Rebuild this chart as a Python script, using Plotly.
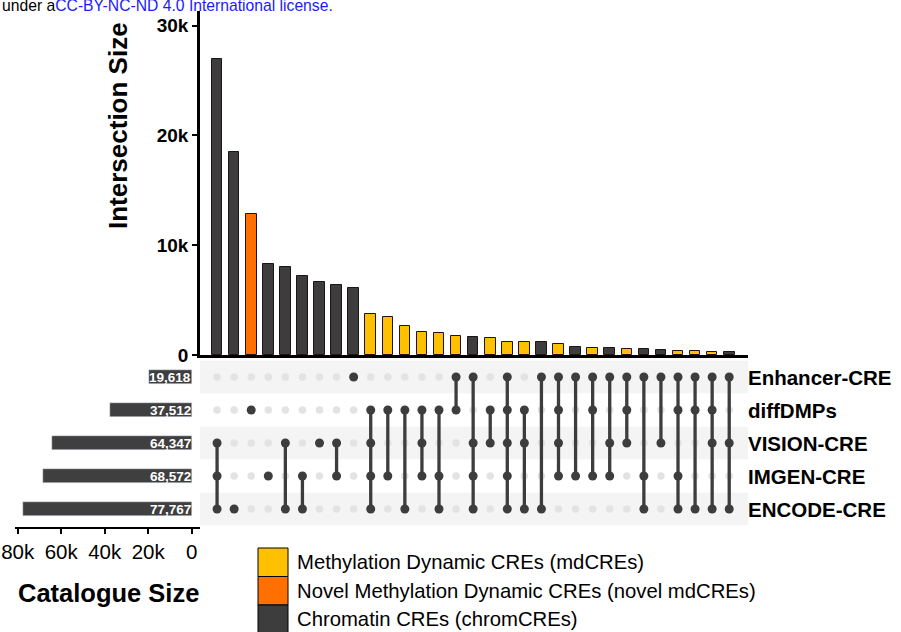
import plotly.graph_objects as go

# ---- data -------------------------------------------------------------
sets = ["Enhancer-CRE", "diffDMPs", "VISION-CRE", "IMGEN-CRE", "ENCODE-CRE"]
set_sizes = [19618, 37512, 64347, 68572, 77767]

# membership of each intersection column (set names joined by '&')
intersections = [
    "VISION-CRE&IMGEN-CRE&ENCODE-CRE",
    "ENCODE-CRE",
    "diffDMPs",
    "IMGEN-CRE",
    "VISION-CRE&ENCODE-CRE",
    "IMGEN-CRE&ENCODE-CRE",
    "VISION-CRE",
    "VISION-CRE&IMGEN-CRE",
    "Enhancer-CRE",
    "diffDMPs&VISION-CRE&IMGEN-CRE&ENCODE-CRE",
    "diffDMPs&IMGEN-CRE",
    "diffDMPs&ENCODE-CRE",
    "diffDMPs&VISION-CRE&IMGEN-CRE",
    "diffDMPs&IMGEN-CRE&ENCODE-CRE",
    "Enhancer-CRE&diffDMPs",
    "Enhancer-CRE&VISION-CRE&IMGEN-CRE&ENCODE-CRE",
    "diffDMPs&VISION-CRE",
    "Enhancer-CRE&diffDMPs&VISION-CRE&IMGEN-CRE&ENCODE-CRE",
    "diffDMPs&VISION-CRE&ENCODE-CRE",
    "Enhancer-CRE&ENCODE-CRE",
    "Enhancer-CRE&diffDMPs&VISION-CRE&IMGEN-CRE",
    "Enhancer-CRE&IMGEN-CRE",
    "Enhancer-CRE&diffDMPs&IMGEN-CRE",
    "Enhancer-CRE&VISION-CRE&IMGEN-CRE",
    "Enhancer-CRE&diffDMPs&VISION-CRE",
    "Enhancer-CRE&IMGEN-CRE&ENCODE-CRE",
    "Enhancer-CRE&VISION-CRE",
    "Enhancer-CRE&diffDMPs&IMGEN-CRE&ENCODE-CRE",
    "Enhancer-CRE&diffDMPs&ENCODE-CRE",
    "Enhancer-CRE&diffDMPs&VISION-CRE&ENCODE-CRE",
    "Enhancer-CRE&VISION-CRE&ENCODE-CRE",
]
intersection_sizes = [
    26980, 18530, 12800, 8270, 8030, 7150, 6670, 6360, 6080,
    3690, 3440, 2660, 2080, 1990, 1750, 1680, 1570, 1200, 1170,
    1140, 960, 750, 680, 620, 560, 530, 440, 380, 380, 290, 260,
]

legend_labels = [
    "Methylation Dynamic CREs (mdCREs)",
    "Novel Methylation Dynamic CREs (novel mdCREs)",
    "Chromatin CREs (chromCREs)",
]
legend_colors = ["#FFC000", "#FF7000", "#3d3d3d"]

y_tick_vals = [0, 10000, 20000, 30000]
y_tick_text = ["0", "10k", "20k", "30k"]
x_tick_vals = [80000, 60000, 40000, 20000, 0]
x_tick_text = ["80k", "60k", "40k", "20k", "0"]

# ---- helpers ----------------------------------------------------------
W, H = 901, 632
FONT = "Liberation Sans, Arial, Helvetica, sans-serif"
DARK = "#3d3d3d"


def fx(px):
    return px / W


def fy(py):
    return 1 - py / H


def category_color(members):
    if "diffDMPs" not in members:
        return legend_colors[2]
    if members == ["diffDMPs"]:
        return legend_colors[1]
    return legend_colors[0]


cols = list(range(len(intersections)))
members = [s.split("&") for s in intersections]
row_of = {name: len(sets) - 1 - i for i, name in enumerate(sets)}  # top row = first set

fig = go.Figure()

# intersection size bars
fig.add_trace(go.Bar(
    x=cols, y=intersection_sizes,
    marker=dict(color=[category_color(m) for m in members],
                line=dict(color="#1e1414", width=1)),
    width=0.62, xaxis="x", yaxis="y", showlegend=False, hoverinfo="skip",
))

# matrix: inactive dots, connecting lines, active dots
ix, iy, ax_, ay_ = [], [], [], []
lx, ly = [], []
for c, m in zip(cols, members):
    rows = [row_of[s] for s in m]
    for s in sets:
        r = row_of[s]
        if s in m:
            ax_.append(c)
            ay_.append(r)
        else:
            ix.append(c)
            iy.append(r)
    if len(rows) > 1:
        lx += [c, c, None]
        ly += [min(rows), max(rows), None]

fig.add_trace(go.Scatter(
    x=ix, y=iy, mode="markers", xaxis="x2", yaxis="y2",
    marker=dict(color="#e3e3e3", size=7.5), showlegend=False, hoverinfo="skip",
))
fig.add_trace(go.Scatter(
    x=lx, y=ly, mode="lines", xaxis="x2", yaxis="y2",
    line=dict(color=DARK, width=3.3), showlegend=False, hoverinfo="skip",
))
fig.add_trace(go.Scatter(
    x=ax_, y=ay_, mode="markers", xaxis="x2", yaxis="y2",
    marker=dict(color=DARK, size=9), showlegend=False, hoverinfo="skip",
))

# catalogue size bars
set_rows = [row_of[s] for s in sets]
fig.add_trace(go.Bar(
    x=set_sizes, y=set_rows, orientation="h", width=0.41,
    marker=dict(color="#3f3f3f"), xaxis="x3", yaxis="y3",
    showlegend=False, hoverinfo="skip",
))

shapes = []
# alternating row shading in the matrix
for s in sets[::2]:
    r = row_of[s]
    shapes.append(dict(type="rect", xref="x2", yref="y2", x0=-1, x1=31.1,
                       y0=r - 0.49, y1=r + 0.49, fillcolor="#f4f4f4",
                       line=dict(width=0), layer="below"))

annotations = []
# set names to the right of the matrix
for s in sets:
    annotations.append(dict(
        x=fx(746), y=row_of[s], xref="paper", yref="y2", xanchor="left",
        yanchor="middle", text=s, showarrow=False,
        font=dict(family=FONT, size=20.5, color="black", weight="bold"),
    ))
# catalogue values inside bars
for s, v in zip(sets, set_sizes):
    annotations.append(dict(
        x=0, y=row_of[s], xref="x3", yref="y3", xanchor="right", xshift=1,
        yanchor="middle", text=f"{v:,}", showarrow=False,
        font=dict(family=FONT, size=13.5, color="white", weight="bold"),
    ))

# axis titles
annotations.append(dict(
    x=fx(118), y=fy(126), xref="paper", yref="paper", text="Intersection Size",
    xanchor="center", yanchor="middle", textangle=-90, showarrow=False,
    font=dict(family=FONT, size=26, color="black", weight="bold"),
))
annotations.append(dict(
    x=fx(108), y=fy(593), xref="paper", yref="paper", text="Catalogue Size",
    xanchor="center", yanchor="middle", showarrow=False,
    font=dict(family=FONT, size=25.5, color="black", weight="bold"),
))

# legend
box_top = 548
box_h = 28.5
for i, (lab, colr) in enumerate(zip(legend_labels, legend_colors)):
    y0 = box_top + i * box_h
    shapes.append(dict(type="rect", xref="paper", yref="paper",
                       x0=fx(258), x1=fx(288), y0=fy(y0 + box_h), y1=fy(y0),
                       fillcolor=colr, line=dict(color="black", width=1)))
    annotations.append(dict(
        x=fx(295), y=fy(y0 + box_h / 2), xref="paper", yref="paper",
        xanchor="left", yanchor="middle", text=lab, showarrow=False,
        font=dict(family=FONT, size=20.3, color="black"),
    ))

# licence line
annotations.append(dict(
    x=0, y=fy(5), xref="paper", yref="paper", xanchor="left", yanchor="middle",
    text="under a<span style='color:#1a1aff'>CC-BY-NC-ND 4.0 International license.</span>",
    showarrow=False, font=dict(family=FONT, size=15.7, color="black"),
))

fig.update_layout(
    width=W, height=H,
    margin=dict(l=0, r=0, t=0, b=0, autoexpand=False),
    paper_bgcolor="white", plot_bgcolor="rgba(0,0,0,0)",
    bargap=0,
    xaxis=dict(domain=[fx(200), fx(748)], range=[-1, 31.1], anchor="y",
               showticklabels=False, ticks="", showgrid=False, zeroline=False,
               showline=True, linecolor="black", linewidth=2.5, automargin=False),
    yaxis=dict(domain=[fy(355), fy(11)], range=[0, 31330], anchor="x",
               tickvals=y_tick_vals, ticktext=y_tick_text, ticks="outside",
               ticklen=5, tickwidth=2, tickcolor="black", showgrid=False,
               zeroline=False, showline=True, linecolor="black", linewidth=2.5,
               automargin=False,
               tickfont=dict(family=FONT, size=19, color="black", weight="bold")),
    xaxis2=dict(domain=[fx(200), fx(748)], range=[-1, 31.1], anchor="y2",
                visible=False, automargin=False),
    yaxis2=dict(domain=[fy(527), fy(360)], range=[-0.545, 4.515], anchor="x2",
                visible=False, automargin=False),
    xaxis3=dict(domain=[fx(15), fx(200)], range=[81240, -3820], anchor="y3",
                tickvals=x_tick_vals, ticktext=x_tick_text, ticks="outside",
                ticklen=5, tickwidth=2, tickcolor="black", showgrid=False,
                zeroline=False, showline=True, linecolor="black", linewidth=2,
                automargin=False,
                tickfont=dict(family=FONT, size=20.5, color="black")),
    yaxis3=dict(domain=[fy(527), fy(360)], range=[-0.545, 4.515], anchor="x3",
                visible=False, automargin=False),
    shapes=shapes,
    annotations=annotations,
)

fig.write_html("out.html")
